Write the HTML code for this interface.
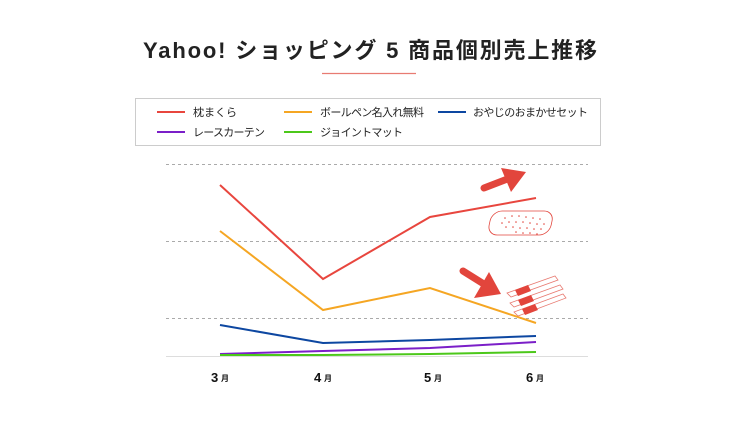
<!DOCTYPE html>
<html><head><meta charset="utf-8"><style>
html,body{margin:0;padding:0;background:#fff;}
body{width:738px;height:441px;overflow:hidden;font-family:"Liberation Sans","Noto Sans CJK JP",sans-serif;}
</style></head><body>
<svg width="738" height="441" viewBox="0 0 738 441" xmlns="http://www.w3.org/2000/svg" font-family="Liberation Sans, Noto Sans CJK JP, sans-serif">
<text x="143" y="58" font-size="22" font-weight="bold" fill="#222" textLength="454" lengthAdjust="spacing">Yahoo! ショッピング 5 商品個別売上推移</text>
<line x1="322" y1="73.5" x2="416" y2="73.5" stroke="#e87b72" stroke-width="1.2"/>
<rect x="135.5" y="98.5" width="465" height="47" fill="#fff" stroke="#ccc"/>
<g stroke-width="2">
<line x1="157" y1="112" x2="185" y2="112" stroke="#e8463e"/>
<line x1="284" y1="112" x2="312" y2="112" stroke="#f5a623"/>
<line x1="438" y1="112" x2="466" y2="112" stroke="#0d47a1"/>
<line x1="157" y1="132" x2="185" y2="132" stroke="#7b1fc8"/>
<line x1="284" y1="132" x2="312" y2="132" stroke="#4cc81a"/>
</g>
<g font-size="11" fill="#222">
<text x="193" y="116" textLength="44">枕まくら</text>
<text x="320" y="116" textLength="104">ボールペン名入れ無料</text>
<text x="473" y="116" textLength="115">おやじのおまかせセット</text>
<text x="193" y="136" textLength="72">レースカーテン</text>
<text x="320" y="136" textLength="83">ジョイントマット</text>
</g>
<g stroke="#aaa" stroke-dasharray="3,3" stroke-width="1">
<line x1="166" y1="164.5" x2="588" y2="164.5"/>
<line x1="166" y1="241.5" x2="588" y2="241.5"/>
<line x1="166" y1="318.5" x2="588" y2="318.5"/>
</g>
<line x1="166" y1="356.5" x2="588" y2="356.5" stroke="#ddd" stroke-width="1"/>
<g fill="none" stroke-width="2" stroke-linejoin="miter">
<polyline points="220,185 323,279 430,217 536,198" stroke="#e8463e"/>
<polyline points="220,231 323,310 430,288 536,323" stroke="#f5a623"/>
<polyline points="220,325 323,343 430,340 536,336" stroke="#0d47a1"/>
<polyline points="220,354 323,351 430,348 536,342" stroke="#7b1fc8"/>
<polyline points="220,355 323,355 430,354 536,352" stroke="#4cc81a"/>
</g>
<g font-weight="bold" fill="#111">
<text x="211" y="382" font-size="13">3</text><text x="221" y="381" font-size="8">月</text>
<text x="314" y="382" font-size="13">4</text><text x="324" y="381" font-size="8">月</text>
<text x="424" y="382" font-size="13">5</text><text x="434" y="381" font-size="8">月</text>
<text x="526" y="382" font-size="13">6</text><text x="536" y="381" font-size="8">月</text>
</g>
<line x1="484" y1="188" x2="510" y2="178" stroke="#e2453c" stroke-width="7" stroke-linecap="round"/>
<polygon points="501,168 526,172 511,192" fill="#e2453c"/>
<rect x="492" y="211" width="62" height="24" rx="10" fill="none" stroke="#e2453c" stroke-width="0.8" transform="skewX(-12) translate(45,0)"/>
<g fill="#e2453c">
<circle cx="505" cy="218" r="0.8"/><circle cx="512" cy="216" r="0.8"/><circle cx="519" cy="216" r="0.8"/><circle cx="526" cy="217" r="0.8"/><circle cx="533" cy="218" r="0.8"/><circle cx="540" cy="219" r="0.8"/>
<circle cx="502" cy="223" r="0.8"/><circle cx="509" cy="222" r="0.8"/><circle cx="516" cy="222" r="0.8"/><circle cx="523" cy="222" r="0.8"/><circle cx="530" cy="223" r="0.8"/><circle cx="537" cy="224" r="0.8"/><circle cx="544" cy="224" r="0.8"/>
<circle cx="506" cy="227" r="0.8"/><circle cx="513" cy="227" r="0.8"/><circle cx="520" cy="228" r="0.8"/><circle cx="527" cy="228" r="0.8"/><circle cx="534" cy="229" r="0.8"/><circle cx="541" cy="229" r="0.8"/>
<circle cx="516" cy="232" r="0.8"/><circle cx="523" cy="233" r="0.8"/><circle cx="530" cy="233" r="0.8"/><circle cx="537" cy="234" r="0.8"/>
</g>
<line x1="463" y1="271" x2="487" y2="286" stroke="#e2453c" stroke-width="7" stroke-linecap="round"/>
<polygon points="489,272 501,294 474,298" fill="#e2453c"/>
<g fill="none" stroke="#e87b72" stroke-width="0.8">
<path d="M507,293 L555,276 L558,280 L511,297 Z"/>
<path d="M510,303 L560,285 L563,289 L514,307 Z"/>
<path d="M514,312 L563,294 L566,298 L518,316 Z"/>
</g>
<g fill="#e2453c">
<polygon points="515,290 528,285 531,291 518,296"/>
<polygon points="518,300 531,295 534,301 521,306"/>
<polygon points="522,309 535,304 538,310 525,315"/>
</g>
</svg>
</body></html>
